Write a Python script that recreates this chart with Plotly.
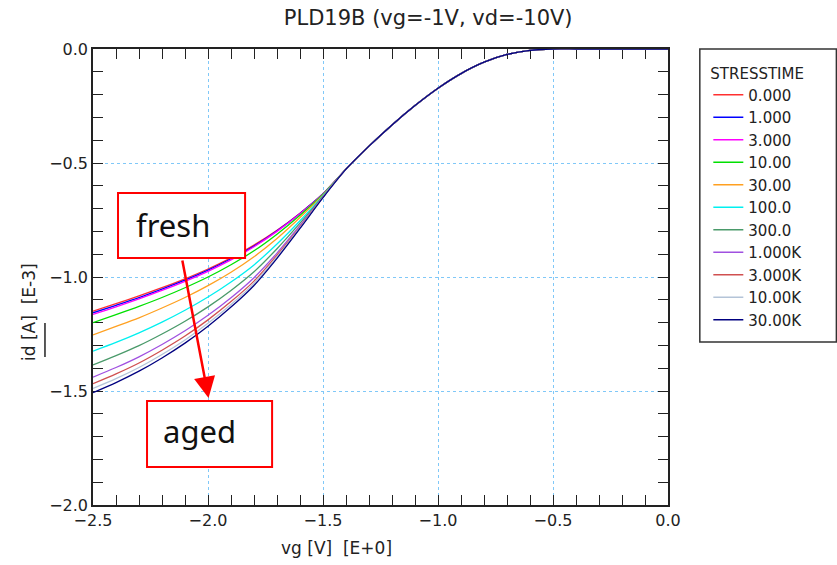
import plotly.graph_objects as go

# ---- data ----
vg_fan = [-2.5, -2.4, -2.3, -2.2, -2.1, -2.0, -1.9, -1.8, -1.7, -1.6, -1.5]
vg_tail = [-1.4, -1.3, -1.2, -1.1, -1.0, -0.9, -0.8, -0.7, -0.6, -0.5, -0.4, -0.3, -0.2, -0.1, 0.0]
id_tail = [-0.527, -0.426, -0.333, -0.248, -0.172, -0.108, -0.058, -0.024, -0.006, 0.0, 0.0, 0.0, 0.0, 0.0, 0.0]

stress_labels = ["0.000", "1.000", "3.000", "10.00", "30.00", "100.0", "300.0",
                 "1.000K", "3.000K", "10.00K", "30.00K"]

id_s0 = [-1.150, -1.117, -1.083, -1.047, -1.008, -0.965, -0.916, -0.860, -0.795, -0.720, -0.635]
id_s1 = [-1.157, -1.124, -1.090, -1.053, -1.014, -0.970, -0.920, -0.864, -0.797, -0.721, -0.635]
id_s3 = [-1.164, -1.131, -1.096, -1.059, -1.019, -0.975, -0.925, -0.867, -0.800, -0.723, -0.636]
id_s10 = [-1.200, -1.165, -1.129, -1.090, -1.047, -1.000, -0.946, -0.885, -0.812, -0.729, -0.637]
id_s30 = [-1.254, -1.217, -1.179, -1.136, -1.090, -1.038, -0.979, -0.911, -0.831, -0.739, -0.640]
id_s100 = [-1.325, -1.287, -1.245, -1.198, -1.146, -1.088, -1.022, -0.947, -0.855, -0.753, -0.643]
id_s300 = [-1.386, -1.345, -1.301, -1.250, -1.194, -1.131, -1.059, -0.977, -0.876, -0.764, -0.646]
id_s1k = [-1.439, -1.397, -1.350, -1.296, -1.236, -1.168, -1.091, -1.003, -0.895, -0.774, -0.649]
id_s3k = [-1.468, -1.425, -1.377, -1.321, -1.259, -1.188, -1.108, -1.018, -0.904, -0.780, -0.650]
id_s10k = [-1.489, -1.446, -1.397, -1.340, -1.276, -1.203, -1.121, -1.028, -0.912, -0.784, -0.651]
id_s30k = [-1.507, -1.463, -1.413, -1.355, -1.290, -1.216, -1.132, -1.037, -0.918, -0.787, -0.652]

series = [id_s0, id_s1, id_s3, id_s10, id_s30, id_s100, id_s300, id_s1k, id_s3k, id_s10k, id_s30k]
colors = ["#ff3030", "#0000ff", "#ff00ff", "#00e000", "#ffa020", "#00f0f0",
          "#4a9a6a", "#a050e0", "#d05050", "#b4c4d8", "#000080"]

x_ticks = [-2.5, -2.0, -1.5, -1.0, -0.5, 0.0]
y_ticks = [0.0, -0.5, -1.0, -1.5, -2.0]

# ---- layout geometry (pixels) ----
W, H = 837, 565
L, R, T, B = 93, 667.7, 49, 505


def px(x):
    return (x - L) / (R - L)


def py(y):
    return (B - y) / (B - T)


FONT = "DejaVu Sans"
fig = go.Figure()
for i, (lab, vals, col) in enumerate(zip(stress_labels, series, colors)):
    fig.add_trace(go.Scatter(
        x=vg_fan + vg_tail, y=vals + id_tail, mode="lines", name=lab,
        legendgroup=f"g{i}",
        line=dict(color=col, width=1.3, shape="spline", smoothing=0.8),
    ))

axis_common = dict(
    showline=True, linecolor="#222", linewidth=1.5, mirror="allticks",
    ticks="inside", ticklen=10, tickcolor="#222", tickwidth=1.3,
    showgrid=True, gridcolor="#80c8f8", griddash="dot", gridwidth=1.2,
    zeroline=False, tickformat=".1f", layer="below traces",
    tickfont=dict(family=FONT, size=16, color="#222"),
    minor=dict(dtick=0.1, ticks="inside", ticklen=10, tickcolor="#222", tickwidth=1.3, showgrid=False),
)

fig.update_xaxes(range=[-2.5, 0.0], tickvals=x_ticks, **axis_common)
fig.update_yaxes(range=[-2.0, 0.0], tickvals=y_ticks, **axis_common)

fig.update_layout(
    width=W, height=H,
    margin=dict(l=L, r=W - R, t=T, b=H - B, pad=0),
    paper_bgcolor="white", plot_bgcolor="white",
    title=dict(text="PLD19B (vg=-1V, vd=-10V)", x=px(428), xref="paper", xanchor="center",
               y=1 - 18 / H, yanchor="middle", yref="container",
               font=dict(family=FONT, size=21, color="#222")),
    legend=dict(
        x=px(708), y=py(59), xanchor="left", yanchor="top",
        borderwidth=0, bgcolor="rgba(0,0,0,0)",
        font=dict(family=FONT, size=15, color="#222"),
        title=dict(text="STRESSTIME", font=dict(family=FONT, size=15, color="#222")),
        tracegroupgap=0, indentation=0,
    ),
    showlegend=True,
)

annotations = [
    dict(text="vg\u00a0[V]\u00a0\u00a0[E+0]", x=px(336), y=py(548), xref="paper", yref="paper",
         showarrow=False, font=dict(family=FONT, size=17, color="#222"), xanchor="center", yanchor="middle"),
    dict(text="id\u00a0[A]\u00a0\u00a0[E-3]", x=px(29), y=py(312), xref="paper", yref="paper",
         showarrow=False, textangle=-90, font=dict(family=FONT, size=17, color="#222"),
         xanchor="center", yanchor="middle"),
    dict(text="fresh", x=px(134), y=py(225), xref="paper", yref="paper", showarrow=False,
         xanchor="left", yanchor="middle", font=dict(family="Noto Sans", size=31, color="#111")),
    dict(text="aged", x=px(161), y=py(431), xref="paper", yref="paper", showarrow=False,
         xanchor="left", yanchor="middle", font=dict(family="Noto Sans", size=31, color="#111")),
    dict(text="", x=px(208.5), y=py(398), xref="paper", yref="paper", showarrow=True,
         ax=182 - 208.5, ay=259 - 398, arrowhead=2, arrowsize=1.7, arrowwidth=2.5, arrowcolor="#ff0000"),
]
fig.update_layout(annotations=annotations)

shapes = [
    dict(type="rect", xref="paper", yref="paper", x0=px(118), x1=px(245), y0=py(193), y1=py(258),
         line=dict(color="#ff0000", width=2), fillcolor="white", layer="above"),
    dict(type="rect", xref="paper", yref="paper", x0=px(147), x1=px(272), y0=py(401), y1=py(467),
         line=dict(color="#ff0000", width=2), fillcolor="white", layer="above"),
    dict(type="line", xref="paper", yref="paper", x0=px(45), x1=px(45), y0=py(323), y1=py(357),
         line=dict(color="#222", width=1.5)),
    dict(type="rect", xref="paper", yref="paper", x0=px(699.5), x1=px(836), y0=py(49), y1=py(342),
         line=dict(color="#333", width=1.5), fillcolor="rgba(0,0,0,0)", layer="above"),
]
fig.update_layout(shapes=shapes)

fig.write_html("out.html")
